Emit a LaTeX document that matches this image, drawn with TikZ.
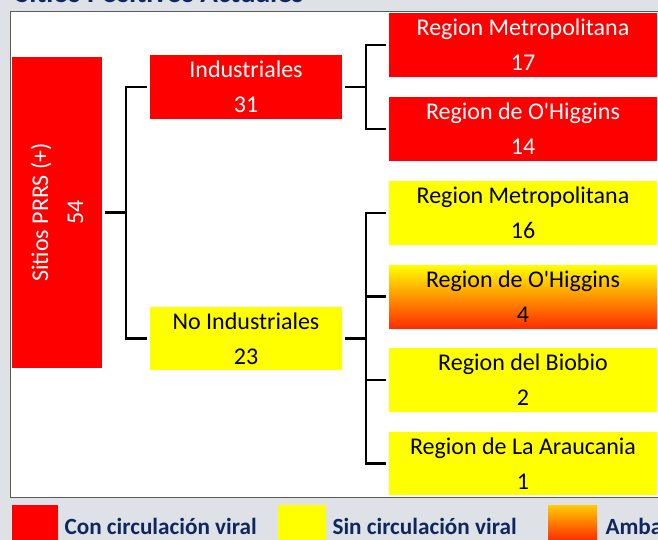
\documentclass[tikz,border=0pt]{standalone}
\usepackage{fontspec}
\setmainfont{Carlito}

\definecolor{conred}{RGB}{255,0,0}
\definecolor{sinyellow}{RGB}{255,255,0}
\definecolor{ambred}{RGB}{255,45,0}
\definecolor{keyorange}{RGB}{255,205,0}
\definecolor{navy}{RGB}{14,40,95}
\definecolor{slidegray}{RGB}{222,226,231}
\definecolor{framegray}{RGB}{90,90,90}

\tikzset{
  box/.style={minimum width=192pt, minimum height=64pt, inner sep=0pt, align=center,
    font=\fontsize{24}{35}\selectfont},
  conbox/.style={box, fill=conred, text=white},
  sinbox/.style={box, fill=sinyellow, text=black},
  ambbox/.style={box, top color=sinyellow, bottom color=ambred, text=black},
  region/.style={minimum width=268pt},
  link/.style={line width=2.5pt, shorten <=3pt, shorten >=3pt},
  keybox/.style={minimum width=46pt, minimum height=35pt, inner sep=0pt},
  keytext/.style={anchor=base west, text=navy, font=\fontsize{23.2}{28}\selectfont\bfseries}
}

\begin{document}
\begin{tikzpicture}[x=1pt,y=1pt,yscale=-1,xscale=1]
\useasboundingbox (0,0) rectangle (658,540);
\clip (0,0) rectangle (658,540);

%Shape: slide and panel
\fill[slidegray] (0,0) rectangle (658,540);
\draw[framegray, line width=1pt, fill=white] (10,12) rectangle (680,497);

% Title (cut by the top edge)
\node[anchor=base west, text=navy, font=\fontsize{29}{30}\selectfont\bfseries] (title) at (12,3) {Sitios Positivos Actuales};

% Root, text turned up: root.south is its right side
\node[conbox, rotate=90, minimum width=311pt, minimum height=90pt] (root) at (57,212.5) {Sitios PRRS (+)\\54};

% Second level
\node[conbox] (ind) at (246,87) {Industriales\\31};
\node[sinbox, minimum height=63pt] (noind) at (246,338.5) {No Industriales\\23};

% Regions
\node[conbox, region] (ind-met) at (523,45) {Region Metropolitana\\17};
\node[conbox, region] (ind-ohi) at (523,129) {Region de O\textquotesingle Higgins\\14};
\node[sinbox, region] (noind-met) at (523,213) {Region Metropolitana\\16};
\node[ambbox, region, minimum height=63pt] (noind-ohi) at (523,296.5) {Region de O\textquotesingle Higgins\\4};
\node[sinbox, region] (noind-bio) at (523,380) {Region del Biobio\\2};
\node[sinbox, region, minimum height=63pt] (noind-ara) at (523,463.5) {Region de La Araucania\\1};

%Straight Lines: brackets
\foreach \child in {ind,noind}
  \draw[link] (root.south) -- ++(24,0) |- (\child.west);
\foreach \child in {ind-met,ind-ohi}
  \draw[link] (ind.east) -- ++(24,0) |- (\child.west);
\foreach \child in {noind-met,noind-ohi,noind-bio,noind-ara}
  \draw[link] (noind.east) -- ++(24,0) |- (\child.west);

% Legend
\node[keybox, fill=conred] (key-con) at (35,522.5) {};
\node[keytext] (lbl-con) at (61,534) {Con circulación viral};
\node[keybox, fill=sinyellow, minimum width=48pt] (key-sin) at (302,522.5) {};
\node[keytext] (lbl-sin) at (329,534) {Sin circulación viral};
\node[keybox, top color=keyorange, bottom color=ambred, minimum width=49pt] (key-amb) at (572.5,522.5) {};
\node[keytext] (lbl-amb) at (602,534) {Ambas};

\end{tikzpicture}
\end{document}
